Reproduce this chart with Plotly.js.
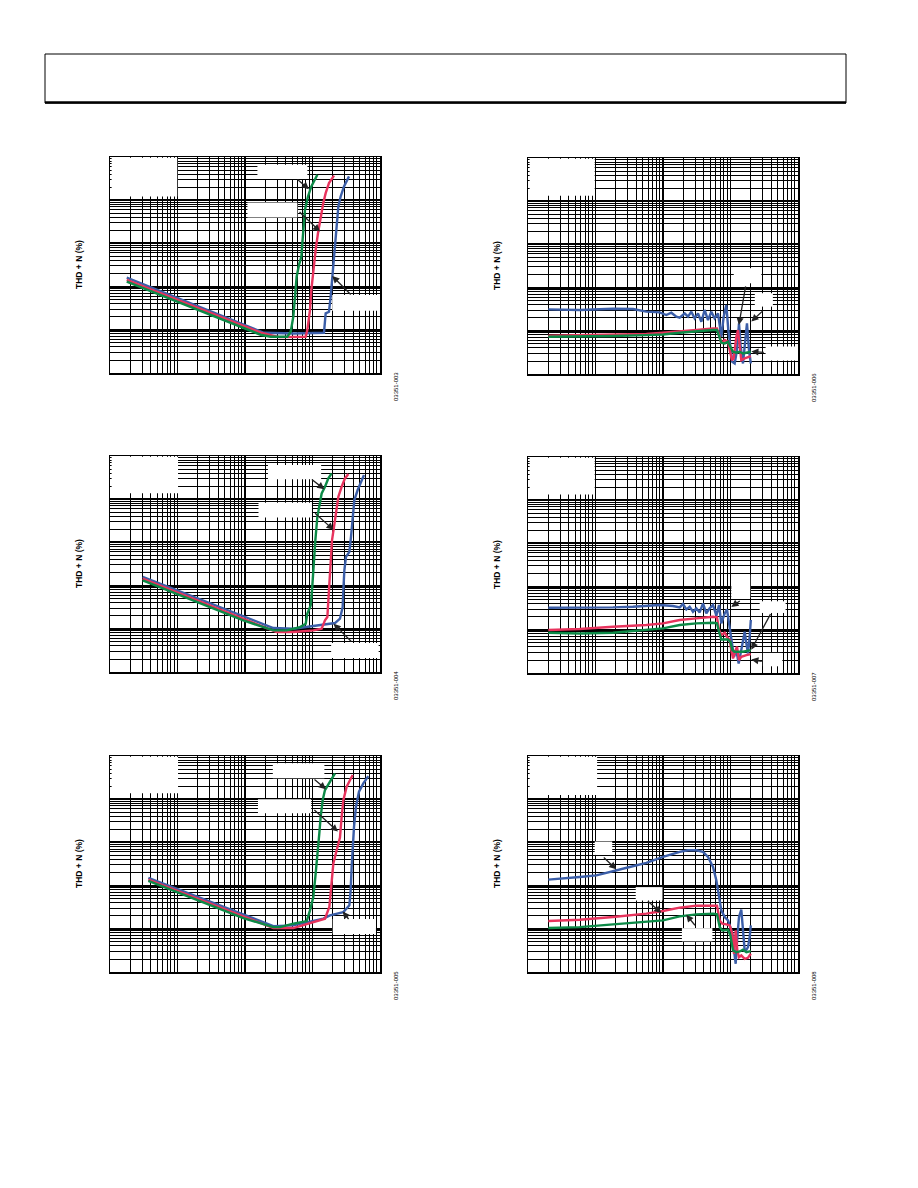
<!DOCTYPE html>
<html>
<head>
<meta charset="utf-8">
<script src="https://cdn.plot.ly/plotly-3.0.1.min.js"></script>
<style>html,body{margin:0;padding:0;background:#fff;}#chart{width:918px;height:1188px;}</style>
</head>
<body>
<div id="chart"></div>
<script>
// ---------- DATA ----------
// Panel 1 (top-left): THD+N (%) vs output power (W)
const p1BlueX  = [0.00177,0.00564,0.01754,0.0547,0.191,0.532,1.479,1.567,1.755,1.858,1.967,2.083,2.228,2.415,2.612,2.930,3.475];
const p1BlueY  = [0.161,0.0778,0.0382,0.0187,0.00855,0.00824,0.00855,0.0240,0.0262,0.0585,0.170,0.708,2.46,7.16,12.2,20.9,35.6];
const p1RedX   = [0.00177,0.00564,0.01754,0.0547,0.1706,0.319,0.532,0.792,0.838,0.918,0.962,1.028,1.114,1.205,1.321,1.445,1.567,1.755,2.083];
const p1RedY   = [0.1426,0.0700,0.0343,0.01683,0.00855,0.00678,0.00678,0.00690,0.00986,0.0287,0.0836,0.243,0.708,1.72,4.20,8.57,14.6,24.9,36.9];
const p1GreenX = [0.00177,0.00564,0.01754,0.0547,0.1706,0.240,0.424,0.475,0.520,0.551,0.582,0.631,0.684,0.707,0.731,0.774,0.857,0.962,1.180];
const p1GreenY = [0.130,0.0628,0.0308,0.01511,0.00769,0.00690,0.00690,0.00902,0.0201,0.0585,0.170,0.318,0.495,1.01,2.46,6.0,12.2,20.9,38.9];

// Panel 2 (top-right): THD+N (%) vs frequency (Hz)
const p2BlueX  = [20,58.3,181.7,359,566,893,1120,1328,1577,1766,2094,2346,2630,2944,3301,3697,4140,4641,5200,5821,6531,7311,7925,8670,9290,9954,10640,11530,12480,13370,14150,15310,16600,17540,18790,20000];
const p2BlueY  = [0.0314,0.0303,0.0325,0.0319,0.0277,0.0267,0.0232,0.0262,0.0212,0.0201,0.0253,0.0212,0.0277,0.0194,0.0253,0.0162,0.0303,0.0177,0.0277,0.0194,0.0253,0.00728,0.0212,0.0395,0.0104,0.00427,0.00191,0.00175,0.00357,0.01486,0.00427,0.00175,0.00728,0.01486,0.00357,0.00175];
const p2RedX   = [20,58.3,181.7,566,1000,1766,3118,5508,6310,6918,7311,8204,9183,9727,10520,11140,12190,12910,13680,14450,16220,18160,20000];
const p2RedY   = [0.00769,0.00796,0.00824,0.0084,0.00902,0.00951,0.0104,0.01137,0.01137,0.00728,0.0051,0.0061,0.00557,0.00357,0.00209,0.00229,0.00728,0.0104,0.00357,0.00209,0.00229,0.0025,0.00259];
const p2GreenX = [20,58.3,181.7,566,1000,1766,3118,5508,6310,6761,7311,8204,9183,9954,10890,12190,13680,15310,17180,20000];
const p2GreenY = [0.00728,0.00728,0.00755,0.00796,0.00824,0.00902,0.00986,0.0104,0.0104,0.00728,0.00528,0.0051,0.00557,0.00427,0.00327,0.0031,0.00327,0.00299,0.00315,0.00327];

// Panel 3 (middle-left)
const p3BlueX  = [0.00305,0.00973,0.0303,0.0944,0.263,0.520,0.821,1.291,1.718,2.153,2.553,2.799,2.864,2.965,3.133,3.516,3.718,3.936,4.169,4.667,5.236,5.794];
const p3BlueY  = [0.1585,0.0778,0.0382,0.0194,0.0104,0.01004,0.01096,0.0120,0.01312,0.01358,0.01714,0.0319,0.0778,0.226,0.461,0.603,1.34,3.91,9.53,16.3,25.4,36.2];
const p3RedX   = [0.00305,0.00973,0.0303,0.0944,0.294,0.520,1.028,1.367,1.531,1.660,1.718,1.776,1.858,1.945,2.083,2.228,2.415,2.704,3.027,3.396];
const p3RedY   = [0.1452,0.0711,0.0349,0.01714,0.0084,0.0084,0.00918,0.01004,0.01567,0.0187,0.0456,0.1585,0.461,1.12,2.29,4.68,11.4,19.4,30.3,38.2];
const p3GreenX = [0.00305,0.00973,0.0303,0.0944,0.263,0.414,0.653,0.793,0.838,0.940,0.984,1.028,1.102,1.180,1.262,1.367,1.531,1.718,1.923];
const p3GreenY = [0.1327,0.0652,0.0319,0.01567,0.00918,0.00918,0.01096,0.01312,0.0224,0.0349,0.0778,0.270,1.12,3.91,6.67,13.6,19.4,30.3,39.6];

// Panel 4 (middle-right)
const p4BlueX  = [20,58.3,181.7,359,566,893,1406,1766,1977,2218,2483,2780,3118,3491,3917,4385,4909,5508,6166,6761,7311,8204,8872,9727,10280,11270,12190,13210,14450,16220,17180,18160,19230,20000];
const p4BlueY  = [0.0325,0.0325,0.0331,0.0343,0.0362,0.0375,0.0356,0.0331,0.0395,0.0297,0.0343,0.0262,0.0314,0.0253,0.0410,0.0240,0.0314,0.0375,0.0212,0.0375,0.01406,0.0240,0.0297,0.01178,0.0069,0.00237,0.00339,0.00166,0.00339,0.00902,0.00483,0.00283,0.0069,0.01683];
const p4RedX   = [20,58.3,181.7,566,1000,1766,3118,5508,6310,6761,7311,8204,8872,9727,10280,10890,11940,12480,13370,14450,17180,20000];
const p4RedY   = [0.00986,0.0104,0.01178,0.01288,0.01406,0.01683,0.0184,0.0201,0.0194,0.00986,0.00755,0.00855,0.0069,0.00578,0.00339,0.00217,0.00339,0.00405,0.00199,0.00237,0.00259,0.00274];
const p4GreenX = [20,58.3,181.7,566,1000,1766,3118,5508,6310,6761,7311,8204,9183,9954,10640,11530,15310,20000];
const p4GreenY = [0.00855,0.00824,0.00855,0.00986,0.01077,0.01288,0.01406,0.01459,0.01406,0.00902,0.00598,0.00598,0.00598,0.00528,0.00339,0.0031,0.0031,0.00339];

// Panel 5 (bottom-left)
const p5BlueX  = [0.00370,0.00973,0.0303,0.0944,0.263,0.520,0.821,1.446,1.816,2.864,3.516,3.674,3.802,3.936,4.121,4.406,4.883,5.662,6.714];
const p5BlueY  = [0.1503,0.0836,0.0417,0.0208,0.01156,0.0120,0.01432,0.01714,0.0205,0.0244,0.0349,0.0778,0.270,0.787,2.29,6.67,14.9,23.2,34.3];
const p5RedX   = [0.00370,0.00973,0.0303,0.0944,0.263,0.520,0.821,1.153,1.531,1.776,1.923,2.036,2.281,2.553,2.704,2.864,3.207,3.936];
const p5RedY   = [0.1374,0.0764,0.0382,0.0191,0.0104,0.0104,0.01265,0.01511,0.01714,0.0319,0.111,0.324,0.659,1.297,3.91,9.53,19.4,36.2];
const p5GreenX = [0.00370,0.00973,0.0303,0.0944,0.263,0.330,0.520,0.821,0.918,1.028,1.102,1.180,1.262,1.321,1.415,1.531,1.816,2.153];
const p5GreenY = [0.1279,0.0711,0.0356,0.0177,0.01096,0.01096,0.01312,0.01511,0.0267,0.0545,0.1585,0.659,1.61,3.91,9.53,16.3,25.4,39.6];

// Panel 6 (bottom-right)
const p6BlueX  = [20,33.0,58.3,103,181.7,321,566,1000,1766,2346,3118,3917,4641,5508,6166,6761,7311,8204,9183,9954,10640,11270,11940,12620,13370,14450,15310,16220,17180,18160,19230,20000];
const p6BlueY  = [0.1375,0.1452,0.1585,0.173,0.219,0.270,0.335,0.461,0.603,0.659,0.659,0.603,0.461,0.270,0.1327,0.0545,0.0267,0.0187,0.01567,0.01096,0.00769,0.00315,0.00155,0.00643,0.0187,0.0277,0.00918,0.00315,0.00327,0.00377,0.00643,0.0120];
const p6RedX   = [20,58.3,181.7,566,1000,1766,3118,5508,6310,6918,7568,8670,9727,10640,11270,11940,12620,13370,14450,16220,18160,20000];
const p6RedY   = [0.01511,0.0162,0.0187,0.0224,0.0258,0.0308,0.0343,0.0349,0.0343,0.01567,0.01312,0.01265,0.0120,0.00769,0.00264,0.00918,0.00315,0.00221,0.00242,0.00202,0.00213,0.00264];
const p6GreenX = [20,58.3,181.7,566,1000,1766,3118,5508,6310,6918,7568,9183,9954,10890,12190,13680,15310,17180,20000];
const p6GreenY = [0.0104,0.01096,0.01265,0.01432,0.01567,0.0194,0.0216,0.0224,0.0216,0.01096,0.00918,0.00951,0.00703,0.00315,0.00288,0.00299,0.00327,0.00288,0.00304];

const yTitle = 'THD + N (%)';
const figIds = ['03351-003','03351-006','03351-004','03351-007','03351-005','03351-008'];

// ---------- STYLE ----------
const BLUE = '#3b5ea8', RED = '#e8335d', GREEN = '#0c8a47';
const W = 918, H = 1188;

const panels = [
  {data:[[p1BlueX,p1BlueY],[p1RedX,p1RedY],[p1GreenX,p1GreenY]], xr:[-3,1], px:[110,380], py:[157,373]},
  {data:[[p2BlueX,p2BlueY],[p2RedX,p2RedY],[p2GreenX,p2GreenY]], xr:[1,5],  px:[528,798], py:[158,374]},
  {data:[[p3BlueX,p3BlueY],[p3RedX,p3RedY],[p3GreenX,p3GreenY]], xr:[-3,1], px:[110,380], py:[456,672]},
  {data:[[p4BlueX,p4BlueY],[p4RedX,p4RedY],[p4GreenX,p4GreenY]], xr:[1,5],  px:[528,798], py:[457,673]},
  {data:[[p5BlueX,p5BlueY],[p5RedX,p5RedY],[p5GreenX,p5GreenY]], xr:[-3,1], px:[110,380], py:[756,972]},
  {data:[[p6BlueX,p6BlueY],[p6RedX,p6RedY],[p6GreenX,p6GreenY]], xr:[1,5],  px:[528,798], py:[756,972]}
];

// white label boxes (domain fractions) [x0,x1,y0,y1]
const boxes = [
  [[0.006,0.249,0.817,0.996],[0.546,0.731,0.898,0.964],[0.509,0.694,0.720,0.789],[0.823,1.0,0.288,0.361]],
  [[0.006,0.247,0.825,0.996],[0.762,0.864,0.420,0.490],[0.840,0.907,0.312,0.374],[0.880,1.0,0.062,0.127]],
  [[0.006,0.252,0.827,0.996],[0.585,0.782,0.892,0.958],[0.550,0.748,0.715,0.784],[0.819,0.995,0.065,0.134]],
  [[0.006,0.247,0.826,0.996],[0.753,0.823,0.347,0.455],[0.858,0.954,0.278,0.332],[0.870,0.942,0.031,0.093]],
  [[0.006,0.252,0.827,0.996],[0.603,0.794,0.897,0.966],[0.548,0.745,0.735,0.800],[0.825,0.985,0.176,0.245]],
  [[0.006,0.256,0.820,0.996],[0.247,0.312,0.542,0.604],[0.399,0.498,0.331,0.393],[0.570,0.683,0.142,0.203]]
];
// arrows: head [x,y] in domain fraction, tail offset [ax,ay] in px
const arrows = [
  [[0.737,0.851,-13,-11],[0.778,0.655,-22,-21],[0.823,0.449,20,20]],
  [[0.781,0.227,7,-40],[0.827,0.243,13,-12],[0.827,0.104,14,1]],
  [[0.794,0.846,-14,-11],[0.828,0.658,-20,-18],[0.828,0.223,19,19]],
  [[0.753,0.306,10,-7],[0.827,0.108,20,-37],[0.827,0.062,12,2]],
  [[0.800,0.846,-13,-11],[0.844,0.650,-25,-23],[0.862,0.280,7,9]],
  [[0.327,0.476,-14,-13],[0.494,0.273,-15,-13],[0.586,0.265,10,12]]
];

const traces = [];
const layout = {
  width: W, height: H,
  margin: {l:0, r:0, t:0, b:0},
  paper_bgcolor: '#fff', plot_bgcolor: '#fff',
  showlegend: false,
  shapes: [], annotations: []
};

// page header frame
layout.shapes.push({type:'rect', xref:'paper', yref:'paper', x0:45/W, x1:846/W, y0:1-103/H, y1:1-54/H, line:{color:'#000', width:1}, fillcolor:'rgba(0,0,0,0)'});
layout.shapes.push({type:'line', xref:'paper', yref:'paper', x0:45/W, x1:846/W, y0:1-102.5/H, y1:1-102.5/H, line:{color:'#000', width:2.5}});

panels.forEach((p, i) => {
  const n = i + 1;
  const sfx = n === 1 ? '' : String(n);
  const xa = 'x' + sfx, ya = 'y' + sfx;
  const colors = [BLUE, RED, GREEN];
  p.data.forEach((d, k) => {
    traces.push({x: d[0], y: d[1], xaxis: xa, yaxis: ya, type: 'scatter', mode: 'lines',
      line: {color: colors[k], width: 2.4}, hoverinfo: 'skip'});
  });
  const common = {
    type: 'log', dtick: 1, showgrid: true, gridcolor: '#000',
    showticklabels: false, ticks: '', showline: true, mirror: true,
    linecolor: '#000', linewidth: 1.5, zeroline: false, fixedrange: true
  };
  layout['xaxis' + sfx] = Object.assign({}, common, {
    domain: [p.px[0]/W, p.px[1]/W], range: p.xr, anchor: ya, gridwidth: 1.1,
    minor: {dtick: 'D1', showgrid: true, gridcolor: '#000', gridwidth: 1, ticks: ''}
  });
  layout['yaxis' + sfx] = Object.assign({}, common, {
    domain: [1 - p.py[1]/H, 1 - p.py[0]/H], range: [-3, 2], anchor: xa, gridwidth: 2,
    minor: {dtick: 'D1', showgrid: true, gridcolor: '#000', gridwidth: 1, ticks: ''}
  });
  boxes[i].forEach(b => {
    layout.shapes.push({type:'rect', xref: xa + ' domain', yref: ya + ' domain',
      x0:b[0], x1:b[1], y0:b[2], y1:b[3], fillcolor:'#fff', line:{width:0}, layer:'above'});
  });
  arrows[i].forEach(a => {
    layout.annotations.push({xref: xa + ' domain', yref: ya + ' domain', x:a[0], y:a[1],
      ax:a[2], ay:a[3], text:'', showarrow:true, arrowhead:2, arrowsize:1.1,
      arrowwidth:1.3, arrowcolor:'#222', standoff:0});
  });
  // y title
  layout.annotations.push({xref:'paper', yref:'paper', x:(p.px[0]-31)/W,
    y:1-((p.py[0]+p.py[1])/2)/H, text:yTitle, showarrow:false, textangle:-90,
    xanchor:'center', yanchor:'middle',
    font:{family:'Arial, Liberation Sans, sans-serif', size:8.5, color:'#000', weight:700}});
  // figure id
  layout.annotations.push({xref:'paper', yref:'paper', x:(p.px[1]+16)/W,
    y:1-(p.py[1]+14)/H, text:figIds[i], showarrow:false, textangle:-90,
    xanchor:'center', yanchor:'middle',
    font:{family:'Arial, Liberation Sans, sans-serif', size:6, color:'#000'}});
});

Plotly.newPlot('chart', traces, layout, {displayModeBar:false, staticPlot:true});
</script>
</body>
</html>
